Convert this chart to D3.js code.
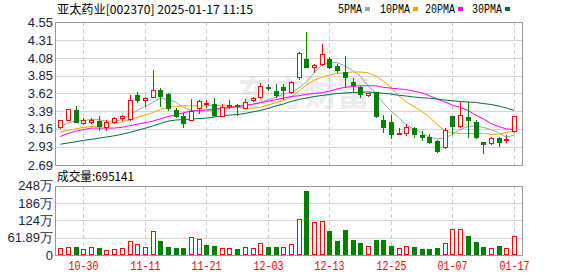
<!DOCTYPE html>
<html><head><meta charset="utf-8">
<script src="https://cdn.jsdelivr.net/npm/d3@7/dist/d3.min.js"></script>
<style>body{margin:0;background:#fff;}svg{display:block;}</style>
</head><body><svg id="c" width="578" height="276"></svg>
<script>
// ---------- data ----------
const dates = ["10-25","10-28","10-29","10-30","10-31","11-01","11-04","11-05","11-06","11-07",
"11-08","11-11","11-12","11-13","11-14","11-15","11-18","11-19","11-20","11-21",
"11-22","11-25","11-26","11-27","11-28","11-29","12-02","12-03","12-04","12-05",
"12-06","12-09","12-10","12-11","12-12","12-13","12-16","12-17","12-18","12-19",
"12-20","12-23","12-24","12-25","12-26","12-27","12-30","12-31","01-02","01-03",
"01-06","01-07","01-08","01-09","01-10","01-13","01-14","01-15","01-16","01-17"];
const openP = [3.19,3.28,3.41,3.23,3.25,3.26,3.18,3.25,3.30,3.29,
3.60,3.54,3.57,3.67,3.61,3.40,3.33,3.28,3.43,3.48,
3.48,3.33,3.46,3.47,3.43,3.53,3.58,3.70,3.65,3.70,
3.64,3.83,4.07,3.96,4.00,4.07,3.98,3.90,3.77,3.71,
3.60,3.64,3.28,3.25,3.09,3.10,3.17,3.08,3.05,3.00,
2.92,3.33,3.20,3.31,3.25,2.99,2.97,3.04,3.02,3.13];
const highP = [3.28,3.42,3.46,3.30,3.30,3.33,3.28,3.31,3.34,3.60,
3.64,3.58,3.93,3.69,3.62,3.43,3.37,3.55,3.53,3.53,
3.56,3.48,3.53,3.48,3.55,3.58,3.76,3.74,3.74,3.74,
3.78,4.16,4.42,4.01,4.27,4.09,4.00,4.11,3.82,3.72,
3.62,3.64,3.34,3.34,3.17,3.22,3.19,3.13,3.09,3.02,
3.17,3.33,3.51,3.51,3.28,2.99,3.05,3.05,3.08,3.33];
const lowP = [3.17,3.27,3.25,3.22,3.23,3.14,3.15,3.23,3.28,3.28,
3.51,3.46,3.57,3.46,3.41,3.31,3.19,3.27,3.36,3.45,
3.33,3.33,3.43,3.34,3.43,3.52,3.56,3.67,3.57,3.55,
3.62,3.81,3.96,3.90,3.99,3.95,3.90,3.72,3.64,3.57,
3.59,3.32,3.12,3.04,3.09,3.08,3.05,3.02,2.97,2.86,
2.91,3.09,3.18,3.05,3.04,2.85,2.96,2.94,2.99,3.12];
const closeP = [3.27,3.42,3.25,3.27,3.28,3.20,3.25,3.30,3.33,3.53,
3.54,3.56,3.67,3.59,3.43,3.33,3.23,3.39,3.52,3.50,
3.34,3.45,3.47,3.46,3.51,3.56,3.72,3.69,3.60,3.66,
3.77,4.15,3.96,3.99,4.14,3.97,3.93,3.84,3.73,3.61,
3.62,3.33,3.19,3.09,3.10,3.18,3.09,3.05,2.99,2.87,
3.15,3.20,3.34,3.28,3.05,2.96,3.04,2.99,3.03,3.33];
const prevClose0 = 3.19;
// volume in 万股
const volume = [25.1,28.7,28.7,22.7,28.7,25.1,17.9,21.5,25.1,50.2,
39.5,28.7,86.1,51.3,28.7,25.1,25.1,63.5,57.4,35.9,
32.3,25.1,25.1,21.5,28.7,25.1,43.1,28.7,28.7,28.7,
39.5,128.1,230.7,118.4,122.0,86.1,51.3,89.7,53.8,44.2,
32.3,53.8,53.8,32.3,24.0,32.3,28.7,21.5,21.5,25.1,
43.1,92.2,92.2,68.2,47.7,28.7,24.0,32.3,24.0,69.51];
const ma5 = [3.19,3.24,3.26,3.27,3.28,3.28,3.26,3.26,3.28,3.34,
3.40,3.45,3.50,3.56,3.54,3.51,3.44,3.40,3.39,3.39,
3.40,3.41,3.43,3.45,3.47,3.48,3.50,3.54,3.57,3.61,
3.63,3.69,3.77,3.89,3.99,4.03,4.02,3.98,3.92,3.85,
3.72,3.63,3.50,3.39,3.31,3.21,3.16,3.11,3.05,3.03,
3.04,3.09,3.15,3.19,3.20,3.18,3.15,3.11,3.05,3.08];
const ma10 = [3.12,3.14,3.16,3.18,3.19,3.20,3.22,3.24,3.25,3.28,
3.31,3.34,3.37,3.41,3.44,3.45,3.46,3.46,3.46,3.46,
3.47,3.46,3.46,3.44,3.43,3.43,3.44,3.47,3.50,3.53,
3.57,3.65,3.73,3.79,3.83,3.86,3.88,3.89,3.90,3.90,
3.89,3.85,3.78,3.70,3.59,3.51,3.45,3.39,3.31,3.22,
3.13,3.11,3.10,3.10,3.10,3.10,3.09,3.09,3.11,3.14];
const ma20 = [3.06,3.10,3.13,3.15,3.17,3.17,3.17,3.17,3.18,3.20,
3.22,3.24,3.26,3.29,3.32,3.34,3.37,3.39,3.40,3.405,
3.42,3.425,3.44,3.45,3.46,3.48,3.50,3.52,3.54,3.56,
3.58,3.59,3.61,3.62,3.63,3.65,3.68,3.70,3.71,3.72,
3.72,3.72,3.70,3.69,3.68,3.67,3.65,3.63,3.59,3.55,
3.51,3.47,3.44,3.40,3.34,3.29,3.23,3.19,3.16,3.15];
const ma30 = [2.96,2.976,2.992,3.009,3.024,3.039,3.054,3.07,3.089,3.113,
3.139,3.167,3.197,3.23,3.26,3.275,3.28,3.288,3.295,3.30,
3.314,3.327,3.34,3.347,3.36,3.38,3.40,3.425,3.457,3.483,
3.516,3.542,3.56,3.58,3.594,3.607,3.62,3.627,3.633,3.636,
3.64,3.633,3.623,3.613,3.597,3.587,3.574,3.565,3.558,3.548,
3.535,3.526,3.516,3.51,3.503,3.49,3.477,3.457,3.431,3.40];
const priceTicks = ["4.55","4.31","4.08","3.85","3.62","3.39","3.16","2.93","2.69"];
const volTickValues = [248,186,124,61.89,0];
const volTickLabels = ["248万","186万","124万","61.89万","0"];
const dateTicks = ["10-30","11-11","11-21","12-03","12-13","12-25","01-07","01-17"];
const legendNames = ["5PMA","10PMA","20PMA","30PMA"];
const title = "亚太药业[002370] 2025-01-17 11:15";
const volTitle = "成交量:695141";

// ---------- drawing ----------
const svg = d3.select("#c");
const L = 55, R = 522, PT = 22, PB = 165, VT = 186, VB = 255;
const RED = "#ff0000", GREEN = "#008000";
const maColors = ["#a0a0a0", "#f5a300", "#ff00ff", "#00703c"];
const sans = "'Liberation Sans', Arial, sans-serif";
const cjk = "'Noto Sans CJK SC', sans-serif";
const mono = "'Liberation Mono', monospace";

const x = d3.scalePoint().domain(dates).range([60.3, 514]);
const y = d3.scaleLinear().domain([2.69, 4.55]).range([PB, PT]);
const yv = d3.scaleLinear().domain([0, 247.56]).range([VB, VT]);
const px = d => Math.round(x(d));

// watermark
svg.append("text").attr("x", 238).attr("y", 106)
  .attr("font-family", cjk).attr("font-size", 35).attr("font-weight", "bold")
  .attr("fill", "#ececf0").attr("textLength", 132).attr("lengthAdjust", "spacingAndGlyphs")
  .text("东方财富");

// grid - price
svg.append("g").selectAll("line").data(priceTicks.slice(1, -1)).join("line")
  .attr("x1", L).attr("x2", R)
  .attr("y1", d => Math.round(y(+d)) + 0.5).attr("y2", d => Math.round(y(+d)) + 0.5)
  .attr("stroke", "#d4d4d4");
svg.append("g").selectAll("line").data(volTickValues.slice(1, -1)).join("line")
  .attr("x1", L).attr("x2", R)
  .attr("y1", d => Math.round(yv(d)) + 0.5).attr("y2", d => Math.round(yv(d)) + 0.5)
  .attr("stroke", "#d4d4d4");
// vertical dashed
[[PT, PB], [VT, VB]].forEach(([a, b]) => {
  svg.append("g").selectAll("line").data(dateTicks).join("line")
    .attr("x1", d => px(d) + 0.5).attr("x2", d => px(d) + 0.5)
    .attr("y1", a).attr("y2", b)
    .attr("stroke", "#cccccc").attr("stroke-dasharray", "4,3");
});

// frames
svg.append("rect").attr("x", L + 0.5).attr("y", PT + 0.5).attr("width", R - L).attr("height", PB - PT)
  .attr("fill", "none").attr("stroke", "#999");
svg.append("rect").attr("x", L + 0.5).attr("y", VT + 0.5).attr("width", R - L).attr("height", VB - VT)
  .attr("fill", "none").attr("stroke", "#999");

// y labels
svg.append("g").selectAll("text").data(priceTicks).join("text")
  .attr("x", 53).attr("y", d => y(+d) + 4.5).attr("text-anchor", "end")
  .attr("font-family", sans).attr("font-size", 13).attr("fill", "#1e1e3c").text(d => d);
svg.append("g").selectAll("text").data(volTickValues).join("text")
  .attr("x", 53).attr("y", d => yv(d) + 4.5).attr("text-anchor", "end")
  .attr("font-family", sans).attr("font-size", 13).attr("fill", "#1e1e3c")
  .text((d, i) => volTickLabels[i]);

// x labels
svg.append("g").selectAll("text").data(dateTicks).join("text")
  .attr("x", d => px(d) + 0.5).attr("y", 270).attr("text-anchor", "middle")
  .attr("font-family", mono).attr("font-size", 12).attr("fill", RED)
  .attr("textLength", 30).attr("lengthAdjust", "spacingAndGlyphs").text(d => d);

// title & volume title
svg.append("text").attr("x", 57).attr("y", 14).attr("font-family", cjk).attr("font-size", 12)
  .attr("fill", "#000").attr("textLength", 196).attr("lengthAdjust", "spacingAndGlyphs").text(title);
svg.append("text").attr("x", 57).attr("y", 181).attr("font-family", cjk).attr("font-size", 12)
  .attr("fill", "#000").attr("textLength", 77).attr("lengthAdjust", "spacingAndGlyphs").text(volTitle);

// legend
const legX = [338, 380, 425, 472];
const lg = svg.append("g");
legendNames.forEach((n, i) => {
  lg.append("text").attr("x", legX[i]).attr("y", 13).attr("font-family", mono).attr("font-size", 12)
    .attr("fill", "#000").attr("textLength", n.length * 6).attr("lengthAdjust", "spacingAndGlyphs").text(n);
  lg.append("rect").attr("x", legX[i] + n.length * 6 + 3).attr("y", 7).attr("width", 5).attr("height", 4)
    .attr("fill", maColors[i]);
});

// MA lines
[ma5, ma10, ma20, ma30].forEach((arr, k) => {
  svg.append("path").datum(arr)
    .attr("d", d3.line().x((d, i) => x(dates[i])).y(d => y(d)))
    .attr("fill", "none").attr("stroke", maColors[k]).attr("stroke-width", 1);
});

// candles
const cg = svg.append("g");
dates.forEach((d, i) => {
  const cx = px(d);
  const o = openP[i], c = closeP[i], h = highP[i], l = lowP[i];
  const up = c >= o;
  const top = Math.round(y(Math.max(o, c))), bot = Math.round(y(Math.min(o, c)));
  const yh = Math.round(y(h)), yl = Math.round(y(l));
  if (up) {
    if (yh < top) cg.append("line").attr("x1", cx + 0.5).attr("x2", cx + 0.5).attr("y1", yh).attr("y2", top).attr("stroke", RED);
    if (yl > bot) cg.append("line").attr("x1", cx + 0.5).attr("x2", cx + 0.5).attr("y1", bot + 1).attr("y2", yl + 1).attr("stroke", RED);
    cg.append("rect").attr("x", cx - 1.5).attr("y", top + 0.5).attr("width", 4).attr("height", Math.max(bot - top, 1))
      .attr("fill", "#fff").attr("stroke", RED);
  } else {
    cg.append("line").attr("x1", cx + 0.5).attr("x2", cx + 0.5).attr("y1", yh).attr("y2", yl + 1).attr("stroke", GREEN);
    cg.append("rect").attr("x", cx - 2).attr("y", top).attr("width", 5).attr("height", Math.max(bot - top, 1) + 1)
      .attr("fill", GREEN);
  }
});

// volume bars (colour by close vs previous close)
const vg = svg.append("g");
dates.forEach((d, i) => {
  const cx = px(d);
  const prev = i === 0 ? prevClose0 : closeP[i - 1];
  const up = closeP[i] >= prev;
  const t = Math.round(yv(volume[i]));
  if (up) {
    vg.append("rect").attr("x", cx - 1.5).attr("y", t + 0.5).attr("width", 4).attr("height", VB - t - 1)
      .attr("fill", "#fff").attr("stroke", RED);
  } else {
    vg.append("rect").attr("x", cx - 2).attr("y", t).attr("width", 5).attr("height", VB - t)
      .attr("fill", GREEN);
  }
});
</script></body></html>
